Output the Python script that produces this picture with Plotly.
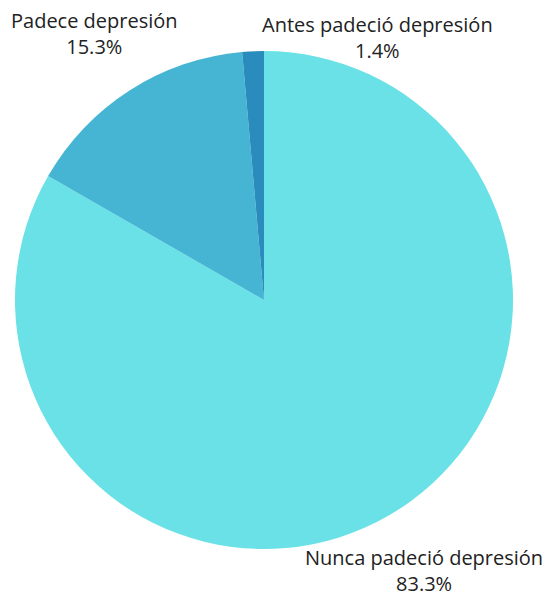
import plotly.graph_objects as go

labels = ["Nunca padeció depresión", "Padece depresión", "Antes padeció depresión"]
values = [83.3, 15.3, 1.4]
colors = ["#6ae1e6", "#45b5d3", "#2a8bbd"]

W, H = 543, 598
CX, CY, R = 264, 300, 249  # pie centre and radius in pixels

# label anchor points (pixel centre of each two-line label)
label_pos = [(424, 570), (94, 34), (377, 38)]

fig = go.Figure(
    go.Pie(
        labels=labels,
        values=values,
        sort=False,
        direction="clockwise",
        rotation=0,
        marker=dict(colors=colors, line=dict(width=0)),
        textinfo="none",
        showlegend=False,
        hoverinfo="label+percent",
        domain=dict(
            x=[(CX - R) / W, (CX + R) / W],
            y=[(H - CY - R) / H, (H - CY + R) / H],
        ),
    )
)

for lab, val, (px, py) in zip(labels, values, label_pos):
    fig.add_annotation(
        x=px / W,
        y=1 - py / H,
        xref="paper",
        yref="paper",
        text=f"{lab}<br>{val:.1f}%",
        showarrow=False,
        xanchor="center",
        yanchor="middle",
        align="center",
        font=dict(family="Open Sans", size=20, color="#222222"),
    )

fig.update_layout(
    width=W,
    height=H,
    margin=dict(l=0, r=0, t=0, b=0),
    paper_bgcolor="white",
    plot_bgcolor="white",
    font=dict(family="Open Sans", size=20, color="#222222"),
)

fig.write_html("out.html")
